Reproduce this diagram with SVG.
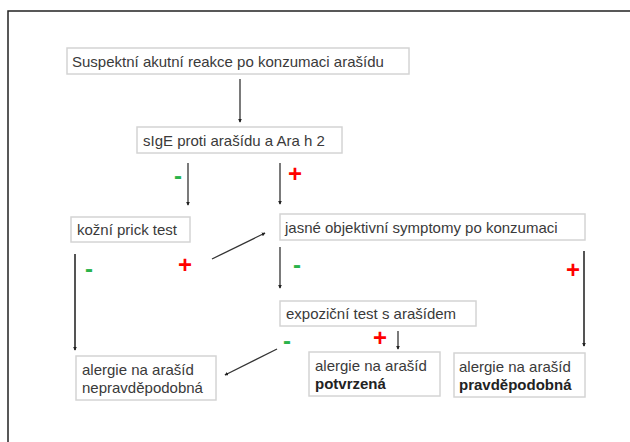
<svg xmlns="http://www.w3.org/2000/svg" width="630" height="442" viewBox="0 0 630 442">
<style>
.box{fill:#fff;stroke:#d4d4d4;stroke-width:1.5}
.t{font-family:"Liberation Sans",Arial,sans-serif;font-size:15px;fill:#3a3a3a}
.b{font-weight:bold;fill:#222}
.c{stroke:#333;stroke-width:1.3;fill:none;marker-end:url(#ah)}
.cl{stroke:#555;stroke-width:2;fill:none;marker-end:url(#ah)}
.plus{font-family:"Liberation Sans",Arial,sans-serif;font-size:24px;font-weight:bold;fill:#f00;text-anchor:middle}
.minus{font-family:"Liberation Sans",Arial,sans-serif;font-size:24px;font-weight:bold;fill:#2ab34b;text-anchor:middle}
</style>
<defs>
<marker id="ah" viewBox="0 0 6 6" refX="5" refY="3" markerWidth="4" markerHeight="4" markerUnits="userSpaceOnUse" orient="auto">
<path d="M0,0 L6,3 L0,6 z" fill="#222"/>
</marker>
</defs>
<rect width="630" height="442" fill="#fff"/>
<path d="M8,442 V11 H630" fill="none" stroke="#222" stroke-width="1.5"/>

<g id="n1"><rect class="box" x="67" y="48" width="342" height="26"/><text class="t" x="72" y="67">Suspektní akutní reakce po konzumaci arašídu</text></g>
<g id="n2"><rect class="box" x="137" y="127" width="205" height="26"/><text class="t" x="143" y="146">sIgE proti arašídu a Ara h 2</text></g>
<g id="n3"><rect class="box" x="71" y="217" width="119" height="25"/><text class="t" x="77" y="235">kožní prick test</text></g>
<g id="n4"><rect class="box" x="280" y="214" width="305" height="26"/><text class="t" x="285" y="233">jasné objektivní symptomy po konzumaci</text></g>
<g id="n5"><rect class="box" x="280" y="301" width="196" height="25"/><text class="t" x="286" y="319">expoziční test s arašídem</text></g>
<g id="n6"><rect class="box" x="76" y="356" width="140" height="44"/><text class="t" x="82" y="375">alergie na arašíd</text><text class="t" x="82" y="393">nepravděpodobná</text></g>
<g id="n7"><rect class="box" x="309" y="352" width="131" height="44"/><text class="t" x="315" y="371">alergie na arašíd</text><text class="t b" x="315" y="389">potvrzená</text></g>
<g id="n8"><rect class="box" x="454" y="353" width="131" height="44"/><text class="t" x="459" y="372">alergie na arašíd</text><text class="t b" x="459" y="390">pravděpodobná</text></g>

<g id="connectors">
<line class="c" x1="240" y1="79" x2="240" y2="122"/>
<line class="c" x1="188" y1="163" x2="188" y2="205"/>
<line class="c" x1="280" y1="163" x2="280" y2="204"/>
<line class="c" x1="212" y1="259" x2="265" y2="233"/>
<line class="cl" x1="75" y1="254" x2="75" y2="350"/>
<line class="c" x1="280" y1="247" x2="280" y2="288"/>
<line class="cl" x1="584" y1="251" x2="584" y2="346"/>
<line class="c" x1="398" y1="331" x2="398" y2="349"/>
<line class="c" x1="277" y1="349" x2="225" y2="375"/>
</g>

<g id="labels">
<text class="minus" x="178" y="184">-</text>
<text class="plus" x="295" y="182">+</text>
<text class="plus" x="185" y="273">+</text>
<text class="minus" x="89" y="277">-</text>
<text class="minus" x="297" y="273">-</text>
<text class="plus" x="573" y="278">+</text>
<text class="plus" x="380" y="346">+</text>
<text class="minus" x="287" y="349">-</text>
</g>
</svg>
